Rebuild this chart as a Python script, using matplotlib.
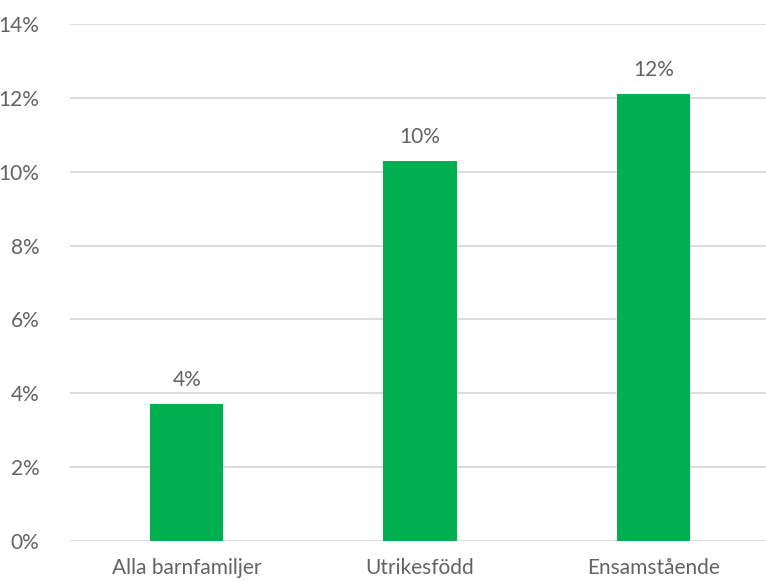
import matplotlib
matplotlib.use("Agg")
import matplotlib.pyplot as plt

categories = ["Alla barnfamiljer", "Utrikesfödd", "Ensamstående"]
values = [3.7, 10.3, 12.1]
bar_labels = ["4%", "10%", "12%"]
yticks = [0, 2, 4, 6, 8, 10, 12, 14]

text_color = "#636363"
plt.rcParams["font.family"] = ["Lato", "DejaVu Sans"]

fig = plt.figure(figsize=(7.66, 5.81), dpi=100)
ax = fig.add_axes([70 / 766, 40 / 581, 696 / 766, 517 / 581])

x = range(len(categories))
bars = ax.bar(x, values, width=0.313, color="#00b050", zorder=3)

for bar, lab in zip(bars, bar_labels):
    ax.text(bar.get_x() + bar.get_width() / 2, bar.get_height() + 0.38, lab,
            ha="center", va="bottom", fontsize=15, color=text_color)

ax.set_xlim(-0.5, 2.5 - 4 / 233.5)
ax.set_ylim(0, 14)
ax.set_yticks(yticks)
ax.set_yticklabels([f"{t}%" for t in yticks])
ax.set_xticks(list(x))
ax.set_xticklabels(categories)
ax.tick_params(axis="both", length=0, labelsize=15, colors=text_color)
ax.tick_params(axis="y", pad=22)
ax.tick_params(axis="x", pad=12)

ax.yaxis.grid(True, color="#d9d9d9", linewidth=1.3, zorder=0)
for s in ax.spines.values():
    s.set_visible(False)

fig.savefig("out.png", dpi=100)
